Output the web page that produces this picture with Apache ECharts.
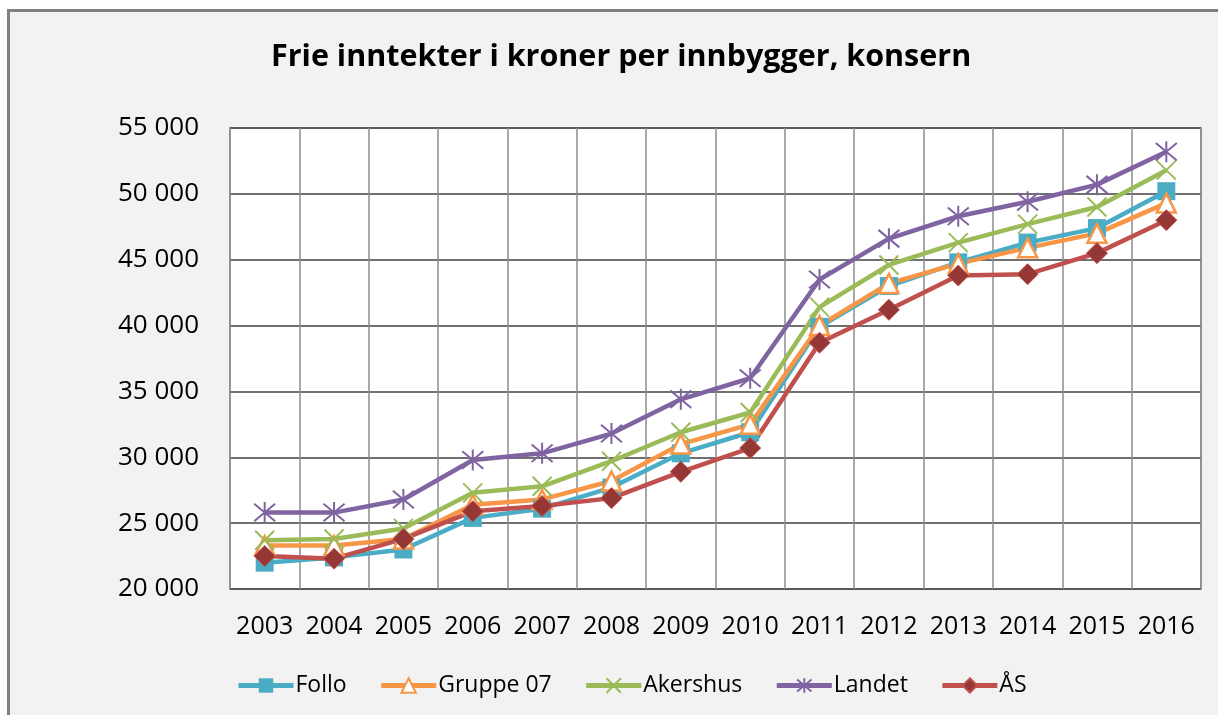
<!DOCTYPE html>
<html>
<head>
<meta charset="utf-8">
<title>Frie inntekter i kroner per innbygger, konsern</title>
<script src="https://cdn.jsdelivr.net/npm/echarts@6/dist/echarts.min.js"></script>
<style>
    html, body { margin: 0; padding: 0; background: #ffffff; }
    #frame {
        position: absolute; left: 7px; top: 9px; width: 1220px; height: 720px;
        border-left: 3px solid #808080; border-top: 3px solid #808080;
        background: #f2f2f2;
    }
    #chart { position: absolute; left: 0; top: 0; width: 1218px; height: 715px; }
</style>
</head>
<body>
<div id="frame"></div>
<div id="chart"></div>
<script>
// --- data ---
const years = ['2003', '2004', '2005', '2006', '2007', '2008', '2009', '2010', '2011', '2012', '2013', '2014', '2015', '2016'];
const follo    = [22000, 22400, 23000, 25400, 26100, 27700, 30300, 31900, 39900, 43000, 44800, 46300, 47400, 50200];
const gruppe07 = [23300, 23300, 23800, 26400, 26800, 28200, 31000, 32500, 40000, 43200, 44700, 45900, 47000, 49300];
const akershus = [23700, 23800, 24600, 27300, 27800, 29700, 31900, 33400, 41400, 44600, 46300, 47700, 49000, 51800];
const landet   = [25800, 25800, 26800, 29800, 30300, 31800, 34400, 36000, 43500, 46600, 48300, 49400, 50700, 53200];
const aas      = [22500, 22300, 23800, 25900, 26300, 26900, 28900, 30700, 38700, 41200, 43800, 43900, 45500, 48000];

const FONT = 'Open Sans';

// x-merke og stjerne som strektegn
const crossPath = 'path://M0,0L10,10M10,0L0,10';
const starPath = 'path://M0,0L10,10M10,0L0,10M5,-1L5,11';

function makeSeries(name, data, color, symbol, size, itemStyle) {
    return {
        name: name,
        type: 'line',
        data: data,
        symbol: symbol,
        symbolSize: size,
        showAllSymbol: true,
        lineStyle: { color: color, width: 4.5 },
        itemStyle: Object.assign({ color: color }, itemStyle || {}),
        emphasis: { disabled: true }
    };
}

const chart = echarts.init(document.getElementById('chart'));
chart.setOption({
    backgroundColor: 'transparent',
    animation: false,
    title: {
        text: 'Frie inntekter i kroner per innbygger, konsern',
        left: 266,
        top: 37,
        textStyle: { fontFamily: FONT, fontSize: 30.5, fontWeight: 'bold', color: '#000' }
    },
    legend: {
        top: 669,
        left: 231,
        itemGap: 32,
        itemWidth: 55,
        itemHeight: 18,
        lineStyle: { width: 5 },
        textStyle: { fontFamily: FONT, fontSize: 23, color: '#000', padding: [0, 0, 0, -3] },
        data: ['Follo', 'Gruppe 07', 'Akershus', 'Landet', 'ÅS']
    },
    grid: {
        left: 230, right: 17, top: 128, bottom: 126,
        show: true, backgroundColor: '#ffffff', borderColor: '#868686', borderWidth: 1.5
    },
    xAxis: {
        type: 'category',
        data: years,
        boundaryGap: true,
        axisLine: { show: false },
        axisTick: { show: false },
        axisLabel: { interval: 0, fontFamily: FONT, fontSize: 25, color: '#000', margin: 25 },
        splitLine: { show: true, interval: 0, lineStyle: { color: '#8c8c8c', width: 1.5 } }
    },
    yAxis: {
        type: 'value',
        min: 20000, max: 55000, interval: 5000,
        axisLine: { show: false },
        axisTick: { show: false },
        axisLabel: {
            fontFamily: FONT, fontSize: 26, color: '#000', margin: 31,
            formatter: v => String(v).replace(/\B(?=(\d{3})+(?!\d))/g, ' ')
        },
        splitLine: { show: true, lineStyle: { color: '#404040', width: 1.5 } }
    },
    series: [
        makeSeries('Follo', follo, '#4bacc6', 'rect', 18),
        makeSeries('Gruppe 07', gruppe07, '#f79646', 'triangle', 19,
            { color: '#ffffff', borderColor: '#f79646', borderWidth: 2.5 }),
        makeSeries('Akershus', akershus, '#9bbb59', crossPath, 19,
            { color: 'none', borderColor: '#9bbb59', borderWidth: 2 }),
        makeSeries('Landet', landet, '#8064a2', starPath, 21,
            { color: 'none', borderColor: '#8064a2', borderWidth: 2 }),
        makeSeries('ÅS', aas, '#c0504d', 'diamond', 21,
            { color: '#953735', borderColor: '#c0504d', borderWidth: 1 })
    ]
});
</script>
</body>
</html>
